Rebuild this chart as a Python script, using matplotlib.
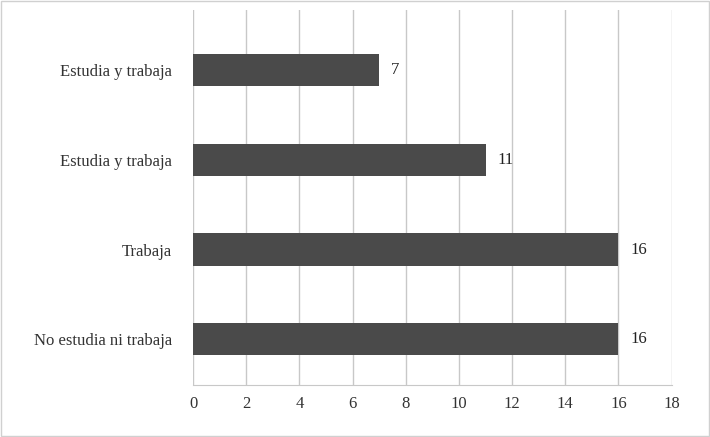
import matplotlib
matplotlib.use("Agg")
import matplotlib.pyplot as plt
from matplotlib.patches import Rectangle

categories = ["No estudia ni trabaja", "Trabaja", "Estudia y trabaja", "Estudia y trabaja"]
values = [16, 16, 11, 7]
xticks = [0, 2, 4, 6, 8, 10, 12, 14, 16, 18]

plt.rcParams['font.family'] = ['Liberation Serif', 'DejaVu Serif']
fig = plt.figure(figsize=(7.10, 4.37), dpi=100)
ax = fig.add_axes([0.272, 0.119, 0.674, 0.858])
ax.barh(range(len(categories)), values, height=0.36, color="#4a4a4a", zorder=3)
for i, v in enumerate(values):
    ax.text(v + 0.45, i, str(v), va="center", ha="left", fontsize=12, color="#222222")
ax.set_xlim(0, 18)
ax.set_ylim(-0.51, 3.67)
ax.set_xticks(xticks)
ax.set_yticks(range(len(categories)))
ax.set_yticklabels(categories, fontsize=12, color="#333333")
ax.tick_params(axis="x", labelsize=12, colors="#333333", length=0, pad=8)
ax.tick_params(axis="y", length=0, pad=15)
ax.grid(axis="x", color="#c8c8c8", linewidth=1, zorder=0)
for s in ["top", "right", "left"]:
    ax.spines[s].set_visible(False)
ax.spines["bottom"].set_color("#c8c8c8")
fig.patches.append(Rectangle((0.002, 0.002), 0.996, 0.996, transform=fig.transFigure,
                             fill=False, edgecolor="#d0d0d0", linewidth=1))
fig.savefig("out.png", dpi=100)
